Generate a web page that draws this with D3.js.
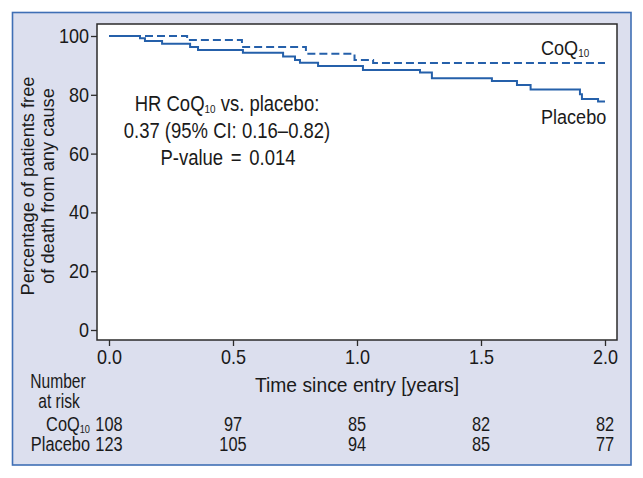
<!DOCTYPE html>
<html>
<head>
<meta charset="utf-8">
<script src="https://cdn.jsdelivr.net/npm/d3@7"></script>
<style>
  html, body { margin: 0; padding: 0; background: #ffffff; }
  svg { display: block; }
  text { font-family: "Liberation Sans", Arial, sans-serif; fill: #1a1a1a; }
</style>
</head>
<body>
<svg id="chart" width="643" height="478"></svg>
<script>
// ---- data ----
const xTicks = [0, 0.5, 1.0, 1.5, 2.0];
const yTicks = [0, 20, 40, 60, 80, 100];

const coqTimes = [0, 0.315, 0.536, 0.794, 0.99, 1.065, 2.0];
const coqSurv  = [100, 98.6, 96.3, 94.0, 91.8, 90.8, 90.8];

const placeboTimes = [0, 0.125, 0.145, 0.214, 0.327, 0.359, 0.540, 0.702, 0.750, 0.770, 0.843, 1.024, 1.254, 1.302, 1.544, 1.645, 1.700, 1.899, 1.907, 1.972, 2.0];
const placeboSurv  = [100, 99.2, 98.3, 97.4, 96.3, 95.2, 94.3, 93.0, 91.8, 90.9, 89.8, 88.4, 87.6, 85.6, 84.7, 83.3, 81.8, 80.2, 78.6, 77.7, 77.7];

const riskTimes   = [0, 0.5, 1.0, 1.5, 2.0];
const riskCoq     = [108, 97, 85, 82, 82];
const riskPlacebo = [123, 105, 94, 85, 77];

// ---- drawing ----
const svg = d3.select("#chart");
const blue = "#2560aa";
const ink = "#1a1a1a";

// condensed text helper: anchor at (x,y), horizontally compressed
function txt(parent, x, y, size, sx, anchor) {
  return parent.append("text")
    .attr("transform", `translate(${x},${y}) scale(${sx},1)`)
    .attr("font-size", size)
    .attr("text-anchor", anchor || "start");
}
function condenseAxisText(sel, size, sx) {
  sel.each(function () {
    const t = d3.select(this);
    const x = +t.attr("x") || 0, y = +t.attr("y") || 0;
    t.attr("x", 0).attr("y", 0)
      .attr("transform", `translate(${x},${y}) scale(${sx},1)`)
      .attr("font-size", size).attr("fill", ink).attr("font-family", null);
  });
}

svg.append("rect").attr("x", 12.5).attr("y", 12.5).attr("width", 618.5).attr("height", 452.5)
  .attr("fill", "#dcdfee").attr("stroke", "#3f6fb5").attr("stroke-width", 1.6);

const frame = {left: 97, top: 24, right: 617, bottom: 340};
const x = d3.scaleLinear().domain([0, 2]).range([109, 605]);
const y = d3.scaleLinear().domain([0, 100]).range([330, 36]);

svg.append("rect").attr("x", frame.left).attr("y", frame.top)
  .attr("width", frame.right - frame.left).attr("height", frame.bottom - frame.top)
  .attr("fill", "#ffffff").attr("stroke", "#2b2b2b").attr("stroke-width", 1.5);

// y axis
const yAxis = svg.append("g").attr("transform", `translate(${frame.left},0)`)
  .call(d3.axisLeft(y).tickValues(yTicks).tickSize(6).tickPadding(2).tickFormat(d3.format("d")));
yAxis.select(".domain").remove();
yAxis.selectAll("line").attr("stroke", "#2b2b2b").attr("stroke-width", 1.3);
condenseAxisText(yAxis.selectAll("text"), 20, 0.9);

// x axis
const xAxis = svg.append("g").attr("transform", `translate(0,${frame.bottom})`)
  .call(d3.axisBottom(x).tickValues(xTicks).tickSize(6).tickPadding(4).tickFormat(d3.format(".1f")));
xAxis.select(".domain").remove();
xAxis.selectAll("line").attr("stroke", "#2b2b2b").attr("stroke-width", 1.3);
condenseAxisText(xAxis.selectAll("text"), 20, 0.9);

// curves
const line = d3.line().curve(d3.curveStepAfter).x(d => x(d[0])).y(d => y(d[1]));
svg.append("path").datum(placeboTimes.map((t, i) => [t, placeboSurv[i]]))
  .attr("d", line).attr("fill", "none").attr("stroke", blue).attr("stroke-width", 2);
svg.append("path").datum(coqTimes.map((t, i) => [t, coqSurv[i]]))
  .attr("d", line).attr("fill", "none").attr("stroke", blue).attr("stroke-width", 2)
  .attr("stroke-dasharray", "8,4");

// axis titles
const yt = svg.append("text").attr("transform", "translate(34,186) rotate(-90) scale(0.95,1)")
  .attr("text-anchor", "middle").attr("font-size", 19.2);
yt.append("tspan").attr("x", 0).attr("dy", 0).text("Percentage of patients free");
yt.append("tspan").attr("x", 0).attr("dy", 20).text("of death from any cause");

txt(svg, 357, 392, 21, 0.92, "middle").text("Time since entry [years]");

// labels on curves
const cl = txt(svg, 541, 55, 21, 0.86);
cl.append("tspan").text("CoQ");
cl.append("tspan").attr("font-size", 11.5).attr("dy", 2).text("10");
txt(svg, 541, 124, 21, 0.86).text("Placebo");

// HR annotation
const hr = txt(svg, 227, 111, 21.5, 0.86, "middle");
hr.append("tspan").text("HR CoQ");
hr.append("tspan").attr("font-size", 11.5).attr("dy", 2).text("10");
hr.append("tspan").attr("dy", -2).text(" vs. placebo:");
txt(svg, 227, 138, 21.5, 0.86, "middle").text("0.37 (95% CI: 0.16\u20130.82)");
const pv = txt(svg, 228, 165, 21.5, 0.86, "middle");
pv.append("tspan").text("P-value ");
pv.append("tspan").attr("dx", 3).text("=");
pv.append("tspan").attr("dx", 3).text(" 0.014");

// number at risk
txt(svg, 58, 388, 19.5, 0.8, "middle").text("Number");
txt(svg, 59, 408, 19.5, 0.8, "middle").text("at risk");
const rc = txt(svg, 90, 431, 19.5, 0.84, "end");
rc.append("tspan").text("CoQ");
rc.append("tspan").attr("font-size", 11).attr("dy", 2).text("10");
txt(svg, 90, 451, 19.5, 0.84, "end").text("Placebo");

riskTimes.forEach((t, i) => {
  txt(svg, x(t), 431, 19.5, 0.84, "middle").text(riskCoq[i]);
  txt(svg, x(t), 451, 19.5, 0.84, "middle").text(riskPlacebo[i]);
});
</script>
</body>
</html>
